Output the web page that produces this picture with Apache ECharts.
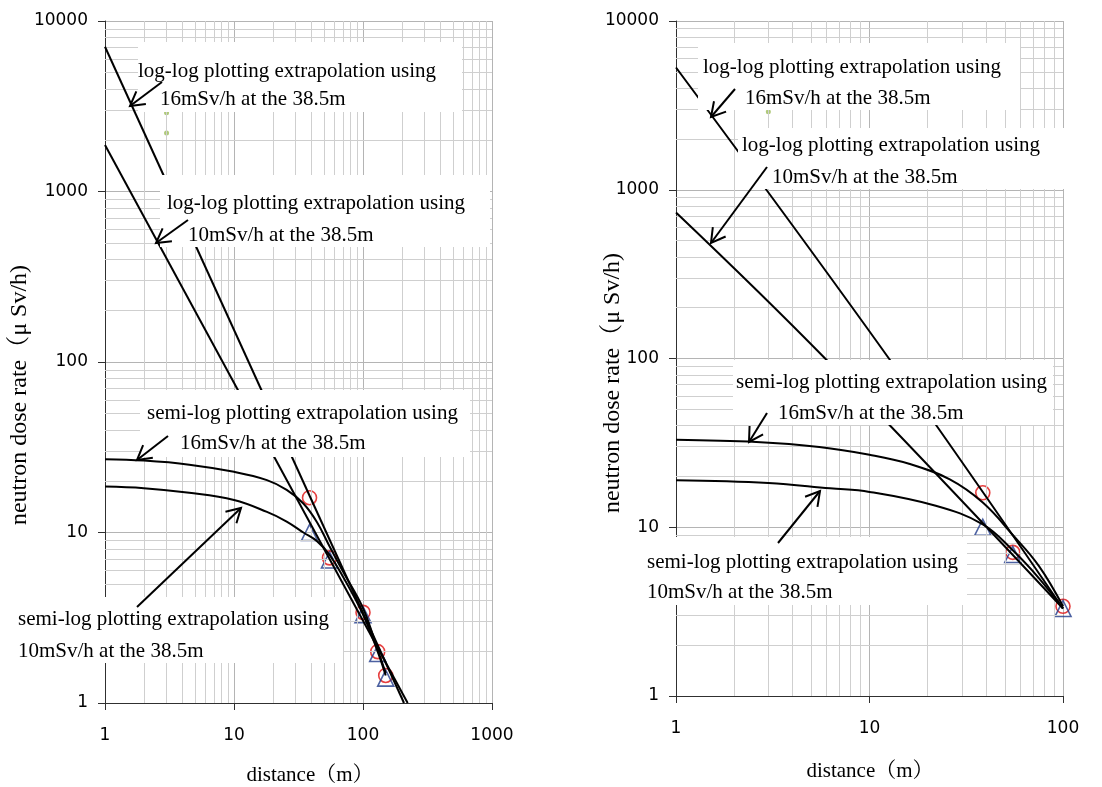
<!DOCTYPE html>
<html><head><meta charset="utf-8">
<script src="https://cdn.jsdelivr.net/npm/echarts@6/dist/echarts.min.js"></script>
<style>html,body{margin:0;padding:0;background:#fff}#c{width:1102px;height:787px}</style>
</head><body><div id="c"></div>
<script>
// ---- tick values ----
const leftXRange = [1, 1000];
const rightXRange = [1, 100];
const yRange = [1, 10000];
const leftMinorX = [2,3,4,5,6,7,8,9,20,30,40,50,60,70,80,90,200,300,400,500,600,700,800,900];
const rightMinorX = [2,3,4,5,6,7,8,9,20,30,40,50,60,70,80,90];
const minorY = [2,3,4,5,6,7,8,9,20,30,40,50,60,70,80,90,200,300,400,500,600,700,800,900,2000,3000,4000,5000,6000,7000,8000,9000];

// ---- measured points (distance m, dose uSv/h) ----
const leftCircles = [[38.5,16],[55,7.1],[100,3.4],[130,2.0],[150,1.45]];
const leftTriangles = [[38.5,10],[55,6.9],[100,3.3],[130,1.95],[150,1.4]];
const rightCircles = [[38.5,16],[55,7.1],[100,3.4]];
const rightTriangles = [[38.5,10],[55,6.9],[100,3.3]];
const greenPoints = [[3,2900],[3,2200]];

// ---- extrapolation curves ----
const leftLogLog16 = [[1,7065],[208,1]];
const leftLogLog10 = [[1,1875],[222,1]];
const leftSemiLog16 = [[1,26.9],[2,26.4],[4.5,25],[10,22.7],[18,20.3],[25.6,17.8],[34.5,14.8],[44,11.5],[55,8.3],[70,5.9],[100,3.6],[130,2.05],[150,1.5]];
const leftSemiLog10 = [[1,18.6],[2,18.2],[4.5,17.1],[10,15.5],[18,13.2],[25.6,11.6],[34.5,10.0],[44,8.9],[55,7.4],[70,5.5],[100,3.3],[130,2.0],[150,1.45]];
const rightLogLog16 = [[1,5300],[12.6,100],[100,3.3]];
const rightLogLog10 = [[1,734],[5.9,100],[100,3.3]];
const rightSemiLog16 = [[1,33],[2.6,32],[5.5,29.9],[10,26.9],[16,23.8],[26,19.2],[38.5,14],[55,9.0],[75,5.9],[100,3.4]];
const rightSemiLog10 = [[1,19],[3,18.3],[6.25,17],[10,16.2],[22,13.4],[38.5,10.4],[55,7.3],[75,5.0],[100,3.3]];

// ---- annotation texts ----
const annLogLog16 = ['log-log plotting extrapolation using','16mSv/h at the 38.5m'];
const annLogLog10 = ['log-log plotting extrapolation using','10mSv/h at the 38.5m'];
const annSemi16 = ['semi-log plotting extrapolation using','16mSv/h at the 38.5m'];
const annSemi10 = ['semi-log plotting extrapolation using','10mSv/h at the 38.5m'];
const yTitle = 'neutron dose rate（μ Sv/h)';
const xTitle = 'distance（m）';

const SERIF = "'Liberation Serif','Noto Serif CJK JP','Noto Sans CJK JP',serif";
const SANS = "'DejaVu Sans',sans-serif";

const chart = echarts.init(document.getElementById('c'), null, {renderer:'canvas'});

function xAxisCfg(idx, range){
  return {type:'log', logBase:10, gridIndex:idx, min:range[0], max:range[1],
    axisLine:{show:true, onZero:false, lineStyle:{color:'#303030', width:1}},
    axisTick:{show:true, length:7, lineStyle:{color:'#303030'}},
    axisLabel:{color:'#000', fontFamily:SANS, fontSize:17, margin:24, formatter:v=>String(v)},
    splitLine:{show:true, lineStyle:{color:'#b4b4b4', width:1}},
    minorTick:{show:false}, minorSplitLine:{show:false}};
}
function yAxisCfg(idx){
  return {type:'log', logBase:10, gridIndex:idx, min:yRange[0], max:yRange[1],
    axisLine:{show:true, onZero:false, lineStyle:{color:'#303030', width:1}},
    axisTick:{show:true, length:7, lineStyle:{color:'#303030'}},
    axisLabel:{color:'#000', fontFamily:SANS, fontSize:17, margin:17, formatter:v=>String(v)},
    splitLine:{show:true, lineStyle:{color:'#b4b4b4', width:1}}};
}
function gridLines(idx, xs, ys){
  const data = xs.map(v=>({xAxis:v})).concat(ys.map(v=>({yAxis:v})));
  return {type:'line', xAxisIndex:idx, yAxisIndex:idx, data:[], z:1, silent:true,
    markLine:{silent:true, symbol:['none','none'], label:{show:false}, animation:false,
      lineStyle:{color:'#cfcfcf', width:1, type:'solid'}, data:data}};
}
function curve(idx, data){
  return {type:'line', xAxisIndex:idx, yAxisIndex:idx, data:data, smooth:0.4,
    showSymbol:false, symbol:'none', z:5, lineStyle:{color:'#000', width:2}};
}
function marks(idx, data, sym, color, size){
  return {type:'scatter', xAxisIndex:idx, yAxisIndex:idx, data:data, symbol:sym, symbolSize:size, z:3,
    itemStyle:{color:'rgba(0,0,0,0)', borderColor:color, borderWidth:1.6}};
}

// annotation graphics
function box(x,y,w,h){ return {type:'rect', z:100, shape:{x:x,y:y,width:w,height:h}, style:{fill:'#fff'}}; }
function txt(x,y,s,size){ return {type:'text', z:101, x:x, y:y, style:{text:s, font:(size||21)+'px '+SERIF, fill:'#000', textVerticalAlign:'middle', textAlign:'left'}}; }
function arrow(x1,y1,x2,y2){
  const a = Math.atan2(y2-y1, x2-x1), L=16, h=0.52;
  const p1=[x2-L*Math.cos(a-h), y2-L*Math.sin(a-h)], p2=[x2-L*Math.cos(a+h), y2-L*Math.sin(a+h)];
  return [
    {type:'line', z:102, shape:{x1:x1,y1:y1,x2:x2,y2:y2}, style:{stroke:'#000', lineWidth:2}},
    {type:'polyline', z:102, shape:{points:[p1,[x2,y2],p2]}, style:{stroke:'#000', lineWidth:2, fill:null}}
  ];
}
let graphics = [
  box(138,42,324,70), txt(138,71,annLogLog16[0]), txt(160,99,annLogLog16[1]),
  box(160,175,330,72), txt(167,203,annLogLog10[0]), txt(188,235,annLogLog10[1]),
  box(140,390,330,67), txt(147,413,annSemi16[0]), txt(180,443,annSemi16[1]),
  box(10,597,333,66), txt(18,619,annSemi10[0]), txt(18,651,annSemi10[1]),
  box(698,43,322,67), txt(703,67,annLogLog16[0]), txt(745,98,annLogLog16[1]),
  box(738,128,327,61), txt(742,145,annLogLog10[0]), txt(772,177,annLogLog10[1]),
  box(733,360,320,65), txt(736,382,annSemi16[0]), txt(778,413,annSemi16[1]),
  box(645,537,322,68), txt(647,562,annSemi10[0]), txt(647,592,annSemi10[1]),
  {type:'text', z:101, x:310, y:775, style:{text:xTitle, font:'21px '+SERIF, fill:'#000', textAlign:'center', textVerticalAlign:'middle'}},
  {type:'text', z:101, x:870, y:771, style:{text:xTitle, font:'21px '+SERIF, fill:'#000', textAlign:'center', textVerticalAlign:'middle'}},
  {type:'text', z:101, x:20, y:395, rotation:Math.PI/2, style:{text:yTitle, font:'24px '+SERIF, fill:'#000', textAlign:'center', textVerticalAlign:'middle'}},
  {type:'text', z:101, x:613, y:383, rotation:Math.PI/2, style:{text:yTitle, font:'24px '+SERIF, fill:'#000', textAlign:'center', textVerticalAlign:'middle'}}
];
graphics = graphics.concat(
  arrow(162,82,130,106), arrow(188,220,156,243), arrow(168,436,137,460), arrow(137,607,241,508),
  arrow(735,89,711,117), arrow(767,167,711,243), arrow(767,413,749,442), arrow(778,543,820,491)
);

chart.setOption({
  animation:false,
  backgroundColor:'#fff',
  grid:[{left:105, top:21, width:387, height:682}, {left:676, top:21, width:387, height:675}],
  xAxis:[xAxisCfg(0,leftXRange), xAxisCfg(1,rightXRange)],
  yAxis:[yAxisCfg(0), yAxisCfg(1)],
  series:[
    gridLines(0,leftMinorX,minorY), gridLines(1,rightMinorX,minorY),
    marks(0,leftCircles,'circle','#e01010',14), marks(0,leftTriangles,'triangle','#1f3a8a',16),
    marks(1,rightCircles,'circle','#e01010',14), marks(1,rightTriangles,'triangle','#1f3a8a',16),
    {type:'scatter', xAxisIndex:0, yAxisIndex:0, data:greenPoints, symbolSize:5, z:3, itemStyle:{color:'#9bbb59'}},
    {type:'scatter', xAxisIndex:1, yAxisIndex:1, data:greenPoints, symbolSize:5, z:3, itemStyle:{color:'#9bbb59'}},
    curve(0,leftLogLog16), curve(0,leftLogLog10), curve(0,leftSemiLog16), curve(0,leftSemiLog10),
    curve(1,rightLogLog16), curve(1,rightLogLog10), curve(1,rightSemiLog16), curve(1,rightSemiLog10)
  ],
  graphic:{elements:graphics}
});
</script></body></html>
